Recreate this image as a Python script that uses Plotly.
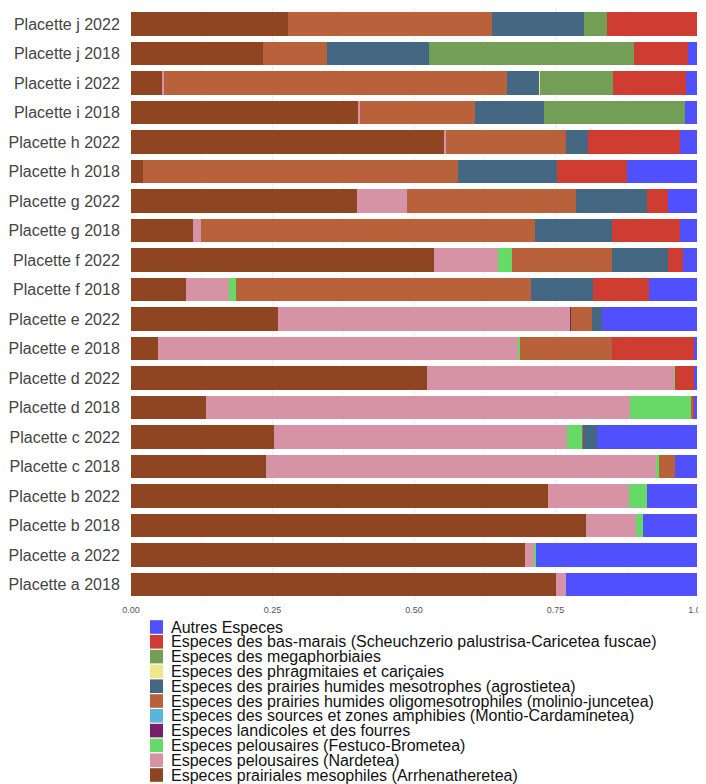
import plotly.graph_objects as go

categories = ["Placette a 2018", "Placette a 2022", "Placette b 2018", "Placette b 2022",
              "Placette c 2018", "Placette c 2022", "Placette d 2018", "Placette d 2022",
              "Placette e 2018", "Placette e 2022", "Placette f 2018", "Placette f 2022",
              "Placette g 2018", "Placette g 2022", "Placette h 2018", "Placette h 2022",
              "Placette i 2018", "Placette i 2022", "Placette j 2018", "Placette j 2022"]

# series, stacked left to right
mesophiles = [0.750, 0.696, 0.803, 0.737, 0.239, 0.253, 0.132, 0.523, 0.048, 0.259,
              0.098, 0.535, 0.110, 0.399, 0.021, 0.554, 0.402, 0.056, 0.234, 0.278]
nardetea = [0.018, 0.017, 0.090, 0.142, 0.690, 0.517, 0.749, 0.437, 0.637, 0.517,
            0.076, 0.113, 0.014, 0.089, 0.000, 0.002, 0.002, 0.002, 0.000, 0.000]
festuco = [0.000, 0.003, 0.012, 0.033, 0.003, 0.027, 0.110, 0.002, 0.002, 0.000,
           0.011, 0.025, 0.000, 0.000, 0.000, 0.000, 0.000, 0.000, 0.000, 0.000]
landicoles = [0.000, 0.000, 0.000, 0.000, 0.000, 0.000, 0.000, 0.000, 0.000, 0.002,
              0.000, 0.000, 0.000, 0.000, 0.000, 0.000, 0.000, 0.000, 0.000, 0.000]
sources = [0.000, 0.000, 0.000, 0.000, 0.000, 0.000, 0.000, 0.000, 0.000, 0.000,
           0.000, 0.000, 0.000, 0.000, 0.000, 0.000, 0.000, 0.000, 0.000, 0.000]
molinio = [0.000, 0.000, 0.000, 0.000, 0.029, 0.002, 0.002, 0.000, 0.163, 0.036,
           0.521, 0.176, 0.590, 0.298, 0.557, 0.213, 0.204, 0.606, 0.113, 0.360]
agrostietea = [0.000, 0.000, 0.000, 0.000, 0.000, 0.025, 0.000, 0.000, 0.000, 0.018,
               0.110, 0.100, 0.136, 0.126, 0.175, 0.038, 0.122, 0.057, 0.180, 0.162]
phragmitaies = [0.000, 0.000, 0.000, 0.000, 0.000, 0.000, 0.000, 0.000, 0.000, 0.000,
                0.000, 0.000, 0.000, 0.000, 0.000, 0.000, 0.000, 0.002, 0.000, 0.000]
megaphorbiaies = [0.000, 0.000, 0.000, 0.000, 0.000, 0.000, 0.000, 0.000, 0.000, 0.000,
                  0.000, 0.000, 0.000, 0.000, 0.000, 0.000, 0.248, 0.128, 0.361, 0.041]
bas_marais = [0.000, 0.000, 0.000, 0.000, 0.000, 0.000, 0.002, 0.032, 0.144, 0.000,
              0.099, 0.026, 0.120, 0.037, 0.123, 0.163, 0.000, 0.129, 0.096, 0.159]
autres = [0.232, 0.284, 0.095, 0.088, 0.039, 0.176, 0.005, 0.006, 0.006, 0.168,
          0.085, 0.025, 0.030, 0.051, 0.124, 0.030, 0.022, 0.020, 0.016, 0.000]

names = ["Especes prairiales mesophiles (Arrhenatheretea)",
         "Especes pelousaires (Nardetea)",
         "Especes pelousaires (Festuco-Brometea)",
         "Especes landicoles et des fourres",
         "Especes des sources et zones amphibies (Montio-Cardaminetea)",
         "Especes des prairies humides oligomesotrophiles (molinio-juncetea)",
         "Especes des prairies humides mesotrophes (agrostietea)",
         "Especes des phragmitaies et cariçaies",
         "Especes des megaphorbiaies",
         "Especes des bas-marais (Scheuchzerio palustrisa-Caricetea fuscae)",
         "Autres Especes"]
series = [mesophiles, nardetea, festuco, landicoles, sources, molinio, agrostietea,
          phragmitaies, megaphorbiaies, bas_marais, autres]
colors = ["#8F4522", "#D693A6", "#66D966", "#7A1F6A", "#5AB4DC", "#B9613A",
          "#446883", "#F0E68C", "#739E55", "#CF3C32", "#5050FF"]

fig = go.Figure()
for name, vals, col in zip(names, series, colors):
    fig.add_trace(go.Bar(y=categories, x=vals, orientation="h", name=name,
                         marker=dict(color=col, line=dict(width=0)),
                         showlegend=False))

W, H = 706, 784
OFF = 8  # page body offset
L, R, T, B = 123, 17, 0, 189
pw, ph = W - L - R, H - T - B


def px_x(win_x):
    return (win_x - OFF - L) / pw


def px_y(win_y):
    return (H - B - (win_y - OFF)) / ph


# custom compact legend (reverse of stacking order)
shapes = []
annotations = []
for i, (name, col) in enumerate(zip(names[::-1], colors[::-1])):
    cy = 627 + i * 14.8
    shapes.append(dict(type="rect", xref="paper", yref="paper",
                       x0=px_x(150), x1=px_x(163), y0=px_y(cy + 6.8), y1=px_y(cy - 6.8),
                       fillcolor=col, line=dict(width=0)))
    annotations.append(dict(xref="paper", yref="paper", x=px_x(169), y=px_y(cy),
                            xanchor="left", yanchor="middle", showarrow=False,
                            text=name, font=dict(size=16, color="#111111",
                                                 family="Liberation Sans, Arial, sans-serif")))

fig.update_layout(
    barmode="stack",
    bargap=0.2,
    width=W, height=H,
    margin=dict(l=L, r=R, t=T, b=B, pad=0),
    plot_bgcolor="white",
    paper_bgcolor="white",
    font=dict(family="Liberation Sans, Arial, sans-serif"),
    shapes=shapes,
    annotations=annotations,
    xaxis=dict(range=[0, 1], tickvals=[0, 0.25, 0.5, 0.75, 1],
               ticktext=["0.00", "0.25", "0.50", "0.75", "1.00"],
               showgrid=True, gridcolor="#EFEFEF", gridwidth=1,
               minor=dict(tickvals=[0.125, 0.375, 0.625, 0.875], showgrid=True,
                          gridcolor="#F5F5F5", gridwidth=1),
               zeroline=False, showline=False, ticks="", automargin=False,
               tickfont=dict(size=9, color="#555555"), fixedrange=True),
    yaxis=dict(categoryorder="array", categoryarray=categories,
               range=[-0.63, 19.54], showgrid=False, zeroline=False, showline=False,
               ticks="outside", ticklen=7, tickcolor="rgba(0,0,0,0)", automargin=False,
               tickfont=dict(size=16, color="#444444")),
)

fig.write_html("out.html")
